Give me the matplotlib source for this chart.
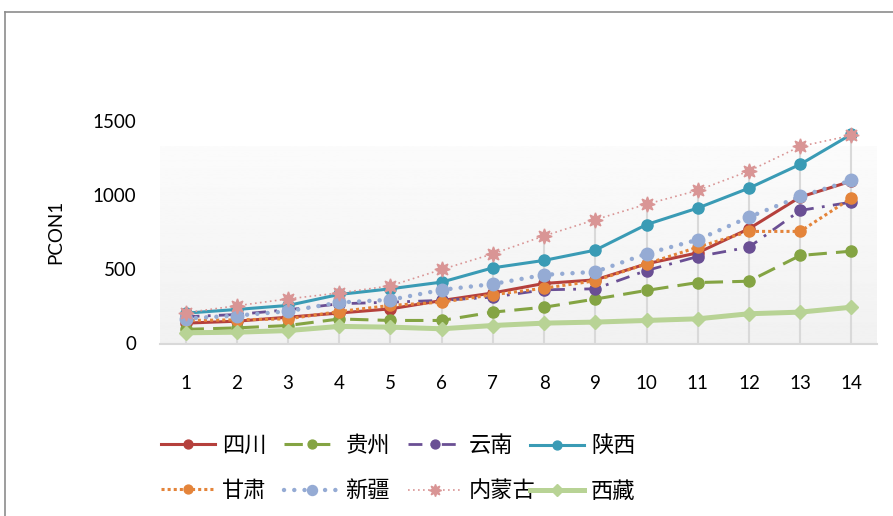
import numpy as np
import matplotlib
matplotlib.use("Agg")
import matplotlib.pyplot as plt
from matplotlib.lines import Line2D

plt.rcParams['font.family'] = ['Lato', 'Noto Sans CJK SC', 'DejaVu Sans']

x = list(range(1, 15))
names = ['四川', '贵州', '云南', '陕西', '甘肃', '新疆', '内蒙古', '西藏']
sichuan = [137, 150, 177, 205, 233, 289, 340, 404, 428, 536, 610, 772, 985, 1092]
guizhou = [95, 105, 121, 165, 155, 155, 211, 244, 299, 357, 410, 419, 592, 621]
yunnan = [180, 195, 227, 267, 278, 290, 312, 361, 368, 491, 585, 648, 895, 951]
shaanxi = [204, 229, 256, 330, 368, 413, 509, 559, 628, 800, 911, 1045, 1205, 1407]
gansu = [155, 159, 166, 215, 256, 278, 328, 372, 422, 536, 648, 754, 754, 978]
xinjiang = [168, 188, 217, 276, 294, 361, 400, 462, 482, 604, 698, 850, 989, 1097]
neimenggu = [207, 254, 300, 340, 388, 498, 603, 724, 833, 937, 1030, 1160, 1326, 1400]
xizang = [72, 76, 87, 115, 110, 99, 121, 137, 144, 155, 166, 200, 211, 244]
series = [sichuan, guizhou, yunnan, shaanxi, gansu, xinjiang, neimenggu, xizang]
yticks = [0, 500, 1000, 1500]

styles = [
    dict(color='#b5403c', lw=2.2, marker='o', ms=8),
    dict(color='#84a443', lw=2.2, marker='o', ms=8, dashes=(6, 3)),
    dict(color='#6a4f94', lw=2.0, marker='o', ms=8, dashes=(5, 3, 1, 3)),
    dict(color='#3a9bb5', lw=2.2, marker='o', ms=8),
    dict(color='#e4843a', lw=2.2, marker='o', ms=8, dashes=(1, 1)),
    dict(color='#95abd4', lw=3.2, marker='o', ms=9, dashes=(0.01, 2.3), dash_capstyle='round'),
    dict(color='#d99595', lw=1.2, marker=(8, 1, 0), ms=11, dashes=(1, 2)),
    dict(color='#b8d395', lw=3.6, marker='D', ms=7.5),
]

fig = plt.figure(figsize=(8.93, 5.16), dpi=100)
ax = fig.add_axes([160/893, 1-343.5/516, (877-160)/893, (343.5-120.5)/516])
ax.set_xlim(0.5, 14.5)
ax.set_ylim(0, 1500)

# background gradient
grad = np.linspace(0.945, 0.985, 256).reshape(-1, 1)
ax.imshow(grad, extent=[0.5, 14.5, 0, 1320], origin='lower', aspect='auto',
          cmap='gray', vmin=0, vmax=1, zorder=0)

# drop lines
ymax = np.max(np.array(series), axis=0)
ax.vlines(x, 0, ymax, colors='#d9d9d9', lw=1.5, zorder=1)

handles = []
for name, vals, st in zip(names, series, styles):
    st = dict(st)
    col = st.pop('color')
    ln, = ax.plot(x, vals, color=col, markerfacecolor=col, markeredgecolor=col,
                  label=name, zorder=3, **st)
    handles.append(ln)

for s in ['top', 'right', 'left']:
    ax.spines[s].set_visible(False)
ax.spines['bottom'].set_color('#d9d9d9')
ax.spines['bottom'].set_linewidth(1.5)
ax.set_xticks(x)
ax.set_yticks(yticks)
ax.tick_params(axis='both', length=0, labelsize=13.5, colors='black')
ax.tick_params(axis='y', pad=17)
ax.tick_params(axis='x', pad=22.5)
ax.set_ylabel('PCON1', fontsize=13.5)
ax.yaxis.set_label_coords(-0.134, 0.5)

# legends
leg_kw = dict(frameon=False, fontsize=16, handlelength=2.45, handletextpad=0.3,
              labelspacing=1.1, numpoints=1, markerscale=0.8,
              borderpad=0, borderaxespad=0)
legA = fig.legend([handles[i] for i in [0, 4, 1, 5, 2, 6]],
                  [names[i] for i in [0, 4, 1, 5, 2, 6]],
                  ncol=3, loc='upper left', bbox_to_anchor=(161/893, 1-435.5/516),
                  columnspacing=0.8, **leg_kw)
legB = fig.legend([handles[3], handles[7]], [names[3], names[7]], ncol=1,
                  loc='upper left', bbox_to_anchor=(530/893, 1-435.5/516), **leg_kw)

# chart frame
fig.add_artist(Line2D([5/893, 1.0], [1-12/516, 1-12/516], color='#8c8c8c', lw=1.2,
                      transform=fig.transFigure))
fig.add_artist(Line2D([5/893, 5/893], [0, 1-12/516], color='#8c8c8c', lw=1.2,
                      transform=fig.transFigure))

fig.savefig('out.png', dpi=100)
